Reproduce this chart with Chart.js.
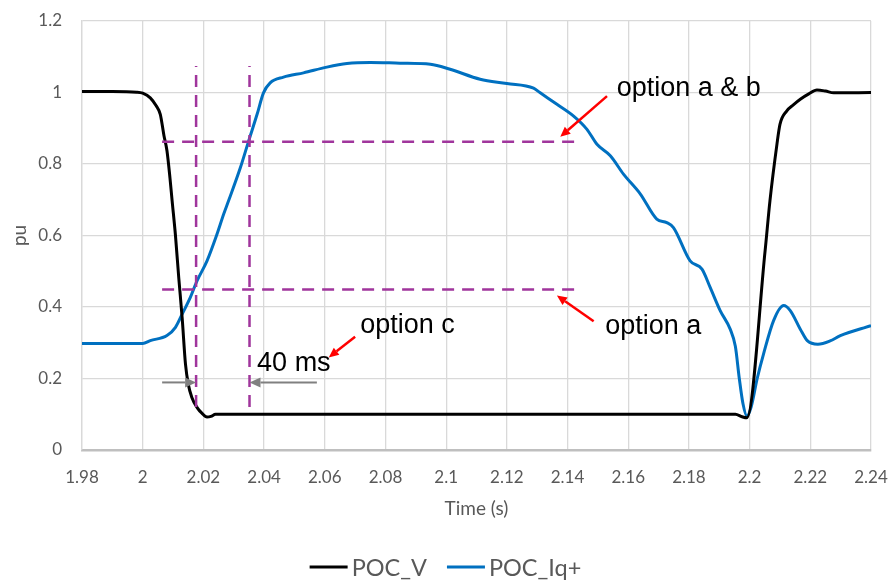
<!DOCTYPE html>
<html lang="en">
<head>
<meta charset="UTF-8">
<title>POC voltage and reactive current</title>
<style>
  html, body { margin: 0; padding: 0; background: #fff; }
</style>
</head>
<body>
<canvas id="chart" width="891" height="581"></canvas>

<script src="https://cdn.jsdelivr.net/npm/chart.js"></script>
<script>
// axis ticks
const xTicks = [1.98, 2.00, 2.02, 2.04, 2.06, 2.08, 2.10, 2.12, 2.14, 2.16, 2.18, 2.20, 2.22, 2.24];
const yTicks = [0, 0.2, 0.4, 0.6, 0.8, 1.0, 1.2];

const seriesNames = ['POC_V', 'POC_Iq+'];

// POC voltage (pu)
const timeV = [1.98, 1.99, 1.998, 2.0, 2.0025, 2.0045, 2.0058, 2.007, 2.008, 2.009, 2.0097, 2.0108,
  2.0119, 2.013, 2.0141, 2.015, 2.0162, 2.018, 2.0195, 2.0212, 2.0225, 2.024, 2.06, 2.12, 2.1953,
  2.1975, 2.1991, 2.2051, 2.2067, 2.209, 2.21, 2.2122, 2.2145, 2.2167, 2.2195, 2.2222, 2.225, 2.2277, 2.24];
const pocV = [1.003, 1.003, 1.001, 0.998, 0.985, 0.962, 0.939, 0.88, 0.837, 0.76, 0.697, 0.6,
  0.48, 0.37, 0.24, 0.185, 0.147, 0.118, 0.103, 0.092, 0.094, 0.1, 0.1, 0.1, 0.1,
  0.093, 0.09, 0.557, 0.697, 0.855, 0.911, 0.948, 0.966, 0.981, 0.996, 1.007, 1.004, 0.999, 1.0];

// POC reactive current (pu)
const timeIq = [1.98, 2.0, 2.0025, 2.008, 2.0108, 2.013, 2.0157, 2.0179, 2.0212, 2.0245, 2.0267, 2.0283,
  2.0322, 2.0349, 2.0377, 2.0398, 2.042, 2.0464, 2.053, 2.0607, 2.0673, 2.075, 2.0848, 2.0948, 2.1013,
  2.1112, 2.12, 2.1288, 2.131, 2.1365, 2.142, 2.1464, 2.1497, 2.1541, 2.1585, 2.164, 2.1694, 2.1727,
  2.1749, 2.1804, 2.1843, 2.187, 2.1903, 2.1936, 2.1953, 2.1966, 2.1978, 2.1991, 2.2005, 2.2025, 2.2046,
  2.2079, 2.2112, 2.2134, 2.2167, 2.219, 2.2225, 2.2265, 2.2299, 2.24];
const pocIq = [0.298, 0.298, 0.306, 0.32, 0.343, 0.38, 0.427, 0.473, 0.529, 0.604, 0.66, 0.697,
  0.79, 0.864, 0.939, 0.999, 1.027, 1.043, 1.055, 1.071, 1.081, 1.084, 1.082, 1.079, 1.065,
  1.037, 1.025, 1.012, 0.999, 0.967, 0.934, 0.897, 0.855, 0.823, 0.771, 0.716, 0.646, 0.636,
  0.622, 0.529, 0.506, 0.455, 0.39, 0.338, 0.29, 0.2, 0.13, 0.095, 0.12, 0.2, 0.269,
  0.362, 0.404, 0.39, 0.338, 0.306, 0.296, 0.305, 0.32, 0.348];

// purple dashed guide lines
const guideTimes = [2.0176, 2.0352];   // vertical lines
const guideTimeRange = [0.12, 1.074];
const guideLevels = [0.862, 0.449];    // horizontal lines
const guideLevelRange = [2.0064, 2.1428];

const toPoints = (xs, ys) => xs.map((x, i) => ({ x: x, y: ys[i] }));

const purple = '#a0359c';
const guideSets = [];
guideTimes.forEach(t => guideSets.push({
  data: [{ x: t, y: guideTimeRange[0] }, { x: t, y: guideTimeRange[1] }]
}));
guideLevels.forEach(l => guideSets.push({
  data: [{ x: guideLevelRange[0], y: l }, { x: guideLevelRange[1], y: l }]
}));

const datasets = [
  { label: seriesNames[0], data: toPoints(timeV, pocV), borderColor: '#000000', backgroundColor: '#000000',
    borderWidth: 3, order: 1, cubicInterpolationMode: 'monotone' },
  { label: seriesNames[1], data: toPoints(timeIq, pocIq), borderColor: '#0070c0', backgroundColor: '#0070c0',
    borderWidth: 3, order: 2, cubicInterpolationMode: 'monotone' }
].concat(guideSets.map(g => Object.assign(g, {
  label: '', borderColor: purple, borderWidth: 2.5, borderDash: [12, 8], order: 0, isGuide: true
})));

function arrow(ctx, x1, y1, x2, y2, color, w, headLen, headW) {
  const ang = Math.atan2(y2 - y1, x2 - x1);
  const bx = x2 - headLen * Math.cos(ang), by = y2 - headLen * Math.sin(ang);
  ctx.strokeStyle = color;
  ctx.fillStyle = color;
  ctx.lineWidth = w;
  ctx.beginPath();
  ctx.moveTo(x1, y1);
  ctx.lineTo(bx, by);
  ctx.stroke();
  ctx.beginPath();
  ctx.moveTo(x2, y2);
  ctx.lineTo(bx + headW / 2 * Math.sin(ang), by - headW / 2 * Math.cos(ang));
  ctx.lineTo(bx - headW / 2 * Math.sin(ang), by + headW / 2 * Math.cos(ang));
  ctx.closePath();
  ctx.fill();
}

const annotations = {
  id: 'annotations',
  afterDatasetsDraw(chart) {
    const ctx = chart.ctx, xs = chart.scales.x, ys = chart.scales.y;
    const X = v => xs.getPixelForValue(v), Y = v => ys.getPixelForValue(v);
    ctx.save();
    // gray arrows marking the 40 ms window
    arrow(ctx, X(2.0064), Y(0.189), X(2.0176), Y(0.189), '#808080', 2, 11, 10);
    arrow(ctx, X(2.0574), Y(0.189), X(2.0352), Y(0.189), '#808080', 2, 11, 10);
    // red pointers
    arrow(ctx, X(2.153), Y(0.99), X(2.1376), Y(0.876), '#ff0000', 2.5, 10, 9);
    arrow(ctx, X(2.1486), Y(0.36), X(2.1365), Y(0.432), '#ff0000', 2.5, 10, 9);
    arrow(ctx, X(2.070), Y(0.317), X(2.0613), Y(0.259), '#ff0000', 2.5, 10, 9);
    // labels
    ctx.fillStyle = '#000000';
    ctx.font = '27px "Liberation Sans", Arial, sans-serif';
    ctx.textAlign = 'left';
    ctx.textBaseline = 'middle';
    ctx.fillText('option a & b', X(2.1562), Y(1.011));
    ctx.fillText('option a', X(2.1524), Y(0.345));
    ctx.fillText('option c', X(2.0717), Y(0.347));
    ctx.fillText('40 ms', X(2.0377), Y(0.241));
    ctx.restore();
  },
  afterDraw(chart) {
    // legend
    const ctx = chart.ctx;
    const items = chart.data.datasets.filter(d => !d.isGuide);
    ctx.save();
    ctx.font = '23.5px Lato, "Noto Sans", sans-serif';
    ctx.textBaseline = 'middle';
    const lineLen = 38, gapText = 4, gapItem = 20;
    const widths = items.map(d => lineLen + gapText + ctx.measureText(d.label).width);
    const total = widths.reduce((a, b) => a + b, 0) + gapItem * (items.length - 1);
    let x = (chart.width - total) / 2;
    const y = 567;
    items.forEach((d, i) => {
      ctx.strokeStyle = d.borderColor;
      ctx.lineWidth = 3;
      ctx.beginPath();
      ctx.moveTo(x, y);
      ctx.lineTo(x + lineLen, y);
      ctx.stroke();
      ctx.fillStyle = '#595959';
      ctx.fillText(d.label, x + lineLen + gapText, y + 1);
      x += widths[i] + gapItem;
    });
    ctx.restore();
  }
};

const tickFont = { family: 'Lato, "Noto Sans", sans-serif', size: 17 };
const titleFont = { family: 'Lato, "Noto Sans", sans-serif', size: 19 };

new Chart(document.getElementById('chart').getContext('2d'), {
  type: 'line',
  data: { datasets: datasets },
  options: {
    responsive: false,
    animation: false,
    events: [],
    elements: { point: { radius: 0 } },
    layout: { padding: { top: 21, right: 20, left: 0, bottom: 0 } },
    plugins: { legend: { display: false }, tooltip: { enabled: false } },
    scales: {
      x: {
        type: 'linear', min: 1.98, max: 2.24,
        afterBuildTicks: s => { s.ticks = xTicks.map(v => ({ value: v })); },
        afterFit: s => { s.height = 131; s.paddingLeft = 0; s.paddingRight = 0; },
        grid: { color: '#d9d9d9', lineWidth: 1.3, drawTicks: false },
        border: { color: '#bfbfbf', width: 2.5 },
        ticks: { padding: 17, color: '#595959', font: tickFont, maxRotation: 0, autoSkip: false,
          callback: v => String(+v.toFixed(2)) },
        title: { display: true, text: 'Time (s)', color: '#595959', font: titleFont,
          padding: { top: 0, bottom: 61 } }
      },
      y: {
        min: 0, max: 1.2,
        afterBuildTicks: s => { s.ticks = yTicks.map(v => ({ value: v })); },
        afterFit: s => { s.width = 82; s.paddingTop = 0; s.paddingBottom = 0; },
        grid: { color: '#d9d9d9', lineWidth: 1.3, drawTicks: false },
        border: { color: '#d9d9d9', width: 1.3 },
        ticks: { padding: 20, color: '#595959', font: tickFont,
          callback: v => String(+v.toFixed(1)) },
        title: { display: true, text: 'pu', color: '#595959', font: titleFont,
          padding: { top: 8, bottom: 0 } }
      }
    }
  },
  plugins: [annotations]
});
</script>
</body>
</html>
